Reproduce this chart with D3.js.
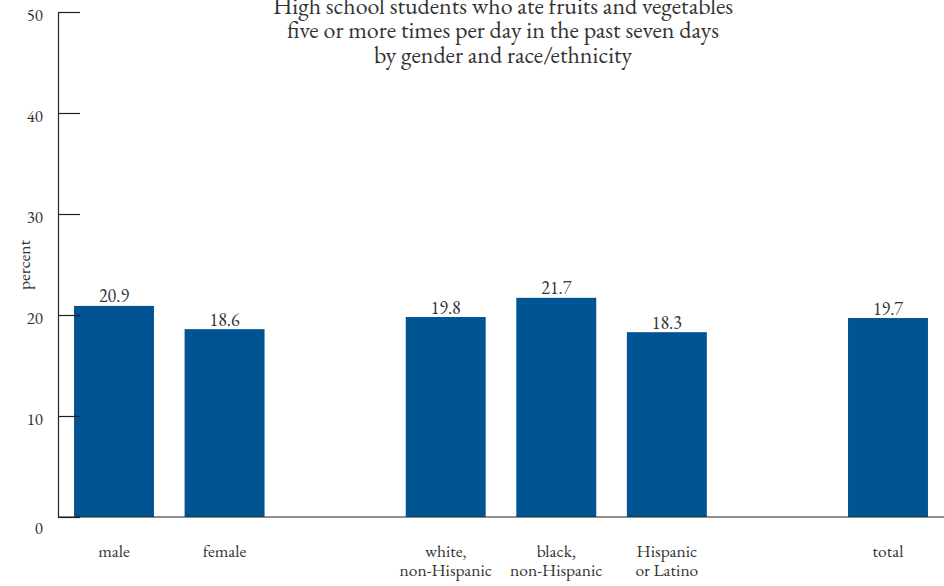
<!DOCTYPE html>
<html>
<head>
<meta charset="utf-8">
<script src="https://cdn.jsdelivr.net/npm/d3@7"></script>
<style>
  html, body { margin: 0; padding: 0; background: #fff; }
  svg { display: block; }
  text { font-family: "EB Garamond", "Liberation Serif", serif; fill: #333; }
</style>
</head>
<body>
<svg id="chart" width="944" height="586"></svg>
<script>
// ---- data ----
const titleLines = [
  "High school students who ate fruits and vegetables",
  "five or more times per day in the past seven days",
  "by gender and race/ethnicity"
];
const genderCats = ["male", "female"];
const raceCats = ["white,\nnon-Hispanic", "black,\nnon-Hispanic", "Hispanic\nor Latino"];
const totalCats = ["total"];
const genderValues = [20.9, 18.6];
const raceValues = [19.8, 21.7, 18.3];
const totalValues = [19.7];
const yTicks = [0, 10, 20, 30, 40, 50];
const yLabel = "percent";

// ---- build ----
const groups = [
  { cats: genderCats, vals: genderValues },
  { cats: raceCats, vals: raceValues },
  { cats: totalCats, vals: totalValues }
];
const data = [];
const domain = [];
groups.forEach((g, gi) => {
  if (gi > 0) domain.push("__gap" + gi);
  g.cats.forEach((c, i) => { domain.push(c); data.push({ cat: c, value: g.vals[i] }); });
});

const svg = d3.select("#chart");
const x = d3.scaleBand().domain(domain).range([58, 944]).paddingInner(0.277).paddingOuter(0.145);
const y = d3.scaleLinear().domain([0, 50]).range([517, 12]);
const barColor = "#005494";
const ink = "#222";

// bars
svg.append("g").selectAll("rect").data(data).join("rect")
  .attr("x", d => x(d.cat))
  .attr("y", d => y(d.value))
  .attr("width", x.bandwidth())
  .attr("height", d => y(0) - y(d.value))
  .attr("fill", barColor);

// value labels
svg.append("g").selectAll("text").data(data).join("text")
  .attr("x", d => x(d.cat) + x.bandwidth() / 2)
  .attr("y", d => y(d.value) - 3.5)
  .attr("text-anchor", "middle")
  .attr("font-size", 18)
  .text(d => d.value.toFixed(1));

// y axis
const yAxis = d3.axisLeft(y).tickValues(yTicks).tickSize(-22).tickSizeOuter(0).tickPadding(15)
  .tickFormat(d3.format("d"));
const yg = svg.append("g").attr("transform", "translate(58,0)").call(yAxis);
yg.select(".domain").attr("stroke", ink).attr("stroke-width", 1.2);
yg.selectAll(".tick line").attr("stroke", ink).attr("stroke-width", 1.2);
yg.selectAll(".tick text")
  .attr("font-size", 17)
  .attr("dy", d => d === 0 ? "0.95em" : "0.5em");

// x axis line
svg.append("line")
  .attr("x1", 58).attr("x2", 944)
  .attr("y1", y(0)).attr("y2", y(0))
  .attr("stroke", ink).attr("stroke-width", 1.2);

// category labels
const catG = svg.append("g").selectAll("text").data(data).join("text")
  .attr("text-anchor", "middle")
  .attr("font-size", 17.5)
  .attr("x", d => x(d.cat) + x.bandwidth() / 2)
  .attr("y", 557);
catG.each(function (d) {
  const lines = d.cat.split("\n");
  d3.select(this).selectAll("tspan").data(lines).join("tspan")
    .attr("x", x(d.cat) + x.bandwidth() / 2)
    .attr("dy", (l, i) => i === 0 ? 0 : 19)
    .text(l => l);
});

// y label
svg.append("text")
  .attr("transform", "translate(30,265) rotate(-90)")
  .attr("text-anchor", "middle")
  .attr("font-size", 17.5)
  .text(yLabel);

// title
svg.append("text")
  .attr("text-anchor", "middle")
  .attr("font-size", 24)
  .selectAll("tspan").data(titleLines).join("tspan")
  .attr("x", 503)
  .attr("y", (l, i) => 14 + i * 24.4)
  .text(l => l);
</script>
</body>
</html>
